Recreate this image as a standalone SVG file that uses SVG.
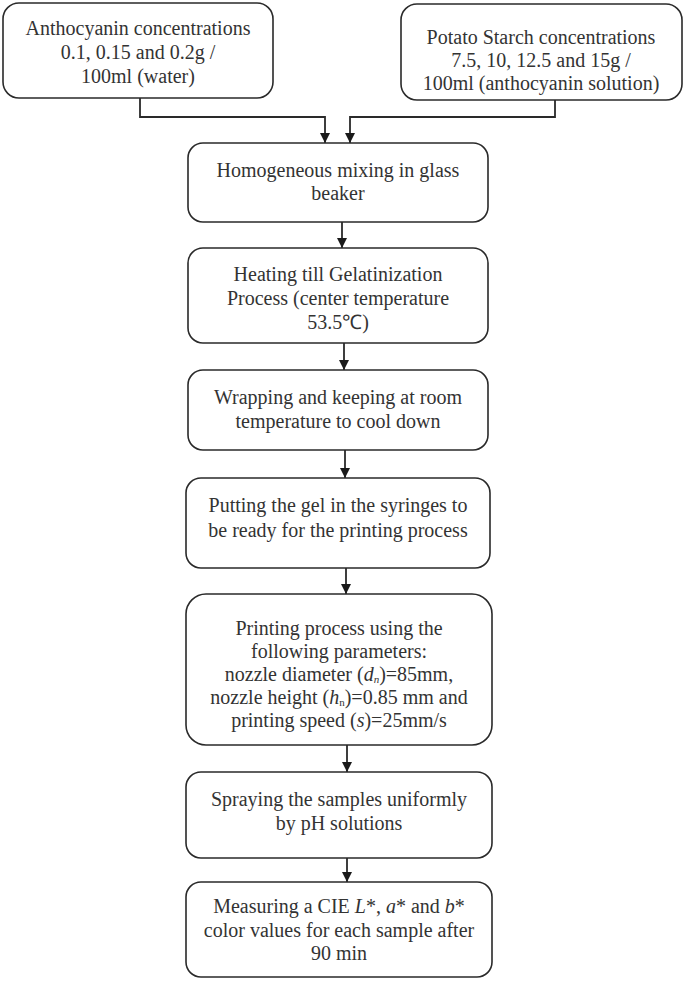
<svg xmlns="http://www.w3.org/2000/svg" width="685" height="981" viewBox="0 0 685 981">
<defs>
<style>
.box{fill:#fff;stroke:#2a2a2a;stroke-width:1.6}
.t{font-family:"Liberation Serif","Times New Roman",serif;font-size:20px;fill:#333;text-anchor:middle}
.i{font-style:italic}
.sub{font-size:11px}
.c{fill:none;stroke:#2a2a2a;stroke-width:1.8}
</style>
<marker id="ah" viewBox="0 0 10 10" refX="10" refY="5" markerWidth="10" markerHeight="10" markerUnits="userSpaceOnUse" orient="auto">
<path d="M0,0 L10,5 L0,10 z" fill="#1a1a1a"/>
</marker>
</defs>
<rect width="685" height="981" fill="#fff"/>
<g id="connectors">
<path class="c" d="M140,98 V117 H325 V143" marker-end="url(#ah)"/>
<path class="c" d="M555,100 V117 H350 V143" marker-end="url(#ah)"/>
<path class="c" d="M342,222 V248" marker-end="url(#ah)"/>
<path class="c" d="M344,343 V370" marker-end="url(#ah)"/>
<path class="c" d="M345,450 V478" marker-end="url(#ah)"/>
<path class="c" d="M346,568 V594" marker-end="url(#ah)"/>
<path class="c" d="M347,745 V772" marker-end="url(#ah)"/>
<path class="c" d="M347,858 V882" marker-end="url(#ah)"/>
</g>
<g id="anthocyanin">
<rect class="box" x="3" y="3" width="270" height="95" rx="16"/>
<text class="t" x="138" y="35">Anthocyanin concentrations</text>
<text class="t" x="138" y="59">0.1, 0.15 and 0.2g /</text>
<text class="t" x="138" y="83">100ml (water)</text>
</g>
<g id="starch">
<rect class="box" x="401" y="4" width="281" height="96" rx="16"/>
<text class="t" x="541" y="44">Potato Starch concentrations</text>
<text class="t" x="541" y="67">7.5, 10, 12.5 and 15g /</text>
<text class="t" x="541" y="90">100ml (anthocyanin solution)</text>
</g>
<g id="mixing">
<rect class="box" x="188" y="143" width="300" height="79" rx="15"/>
<text class="t" x="338" y="177">Homogeneous mixing in glass</text>
<text class="t" x="338" y="200">beaker</text>
</g>
<g id="heating">
<rect class="box" x="188" y="248" width="300" height="95" rx="15"/>
<text class="t" x="338" y="281">Heating till Gelatinization</text>
<text class="t" x="338" y="305">Process (center temperature</text>
<text class="t" x="338" y="329">53.5℃)</text>
</g>
<g id="wrapping">
<rect class="box" x="188" y="370" width="300" height="80" rx="15"/>
<text class="t" x="338" y="404">Wrapping and keeping at room</text>
<text class="t" x="338" y="428">temperature to cool down</text>
</g>
<g id="putting">
<rect class="box" x="186" y="478" width="304" height="90" rx="15"/>
<text class="t" x="338" y="512">Putting the gel in the syringes to</text>
<text class="t" x="338" y="537">be ready for the printing process</text>
</g>
<g id="printing">
<rect class="box" x="186" y="594" width="306" height="151" rx="20"/>
<text class="t" x="339" y="635">Printing process using the</text>
<text class="t" x="339" y="658">following parameters:</text>
<text class="t" x="339" y="681">nozzle diameter (<tspan class="i">d</tspan><tspan class="i sub" dy="2">n</tspan><tspan dy="-2">)=85mm,</tspan></text>
<text class="t" x="339" y="704">nozzle height (<tspan class="i">h</tspan><tspan class="sub" dy="2">n</tspan><tspan dy="-2">)=0.85 mm and</tspan></text>
<text class="t" x="339" y="727">printing speed (<tspan class="i">s</tspan>)=25mm/s</text>
</g>
<g id="spraying">
<rect class="box" x="186" y="772" width="306" height="86" rx="15"/>
<text class="t" x="339" y="806">Spraying the samples uniformly</text>
<text class="t" x="339" y="830">by pH solutions</text>
</g>
<g id="measuring">
<rect class="box" x="186" y="882" width="306" height="95" rx="15"/>
<text class="t" x="339" y="913">Measuring a CIE <tspan class="i">L</tspan>*, <tspan class="i">a</tspan>* and <tspan class="i">b</tspan>*</text>
<text class="t" x="339" y="937">color values for each sample after</text>
<text class="t" x="339" y="960">90 min</text>
</g>
</svg>
